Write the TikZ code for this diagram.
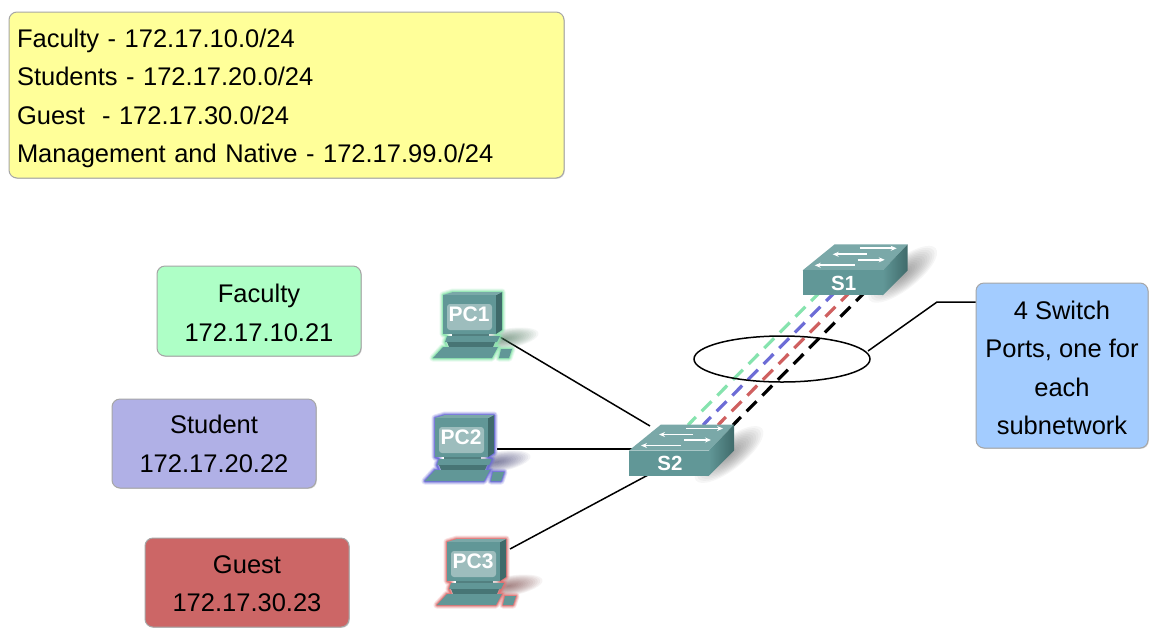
\documentclass[tikz,border=0pt]{standalone}
\usepackage{fontspec}
\setmainfont{Liberation Sans}
\usetikzlibrary{arrows.meta,shadows,shapes.geometric}
\definecolor{yellowbox}{HTML}{FFFF99}
\definecolor{greenbox}{HTML}{AEFFC6}
\definecolor{bluebox}{HTML}{B0B0E6}
\definecolor{redbox}{HTML}{CC6666}
\definecolor{skybox}{HTML}{A3CCFF}
\definecolor{devfront}{HTML}{619797}
\definecolor{devtop}{HTML}{7AA8A8}
\definecolor{devdark}{HTML}{3F6A6A}
\definecolor{screenc}{HTML}{9DBDBD}
\definecolor{glowg}{HTML}{8CE6AE}
\definecolor{glowb}{HTML}{6A6AD8}
\definecolor{glowr}{HTML}{E07070}
\definecolor{dashg}{HTML}{86E3AE}
\definecolor{dashb}{HTML}{6C6CD6}
\definecolor{dashr}{HTML}{CF6060}
\tikzset{
  x=1pt,y=-1pt,
  infobox/.style={draw=black!35,line width=1pt,rounded corners=8pt,align=center,
    font=\fontsize{25.5}{38.3}\selectfont,text=black,inner sep=0pt,
    drop shadow={shadow xshift=.8pt,shadow yshift=-.8pt,fill=black!50,opacity=.35}},
  link/.style={draw=black,line width=1.5pt},
  trunk/.style={line width=3.2pt,dash pattern=on 14pt off 8.2pt},
  devlabel/.style={text=white,font=\bfseries\fontsize{#1}{#1}\selectfont,inner sep=0pt},
  flowarrow/.style={white,line width=1.8pt,-{Stealth[length=6pt,width=5pt]}},
}
% soft blob: nested translucent ellipses; colour, centre, rx, ry, rotation
\newcommand\softblob[5]{%
  \foreach \k in {1,...,14}{
    \fill[#1,opacity=.06,shift={#2},rotate=#5] (0,0) ellipse ({#3*\k/14} and {#4*\k/14});}}
\newcommand\pcicon[5]{% name, x, y, glow, label
\begin{scope}[shift={(#2,#3)}]
  \softblob{#4!50!black}{(62,47)}{34}{10}{10}
  \foreach \w/\o in {7/.2,5/.3,3/.5,1.5/.8}{
   \draw[#4,line width=\w pt,line join=round,opacity=\o]
     (0,3) -- (10,0) -- (59,0) -- (59,38) -- (53,42) -- (57,44) -- (54,50) -- (52,55) -- (55,55) -- (49,66) -- (-10,66) -- (0,55) -- (4,55) -- (2,50) -- (4,44) -- (0,42) -- cycle;
   \draw[#4,line width=\w pt,line join=round,opacity=\o]
     (58,57) -- (69,57) -- (66,66) -- (56,66) -- cycle;}
  \fill[devdark] (53,3) -- (59,0) -- (59,38) -- (53,42) -- cycle;
  \fill[devtop] (0,3) -- (10,0) -- (59,0) -- (53,3) -- cycle;
  \fill[devfront] (0,3) -- (53,3) -- (53,42) -- (0,42) -- cycle;
  \fill[devfront!85!black] (9,42) -- (46,42) -- (46,45) -- (9,45) -- cycle;
  \fill[devfront] (2,50) -- (4,44) -- (57,44) -- (54,50) -- cycle;
  \fill[devdark!75!devfront] (4,50) -- (52,50) -- (50,55) -- (6,55) -- cycle;
  \fill[devfront] (0,55) -- (55,55) -- (49,66) -- (-10,66) -- cycle;
  \fill[devfront] (58,57) -- (69,57) -- (66,66) -- (56,66) -- cycle;
  \fill[screenc,rounded corners=3pt] (4,12) rectangle (49,38);
  \node[devlabel=21] (#1) at (26,22.5) {#5};
\end{scope}}
\newcommand\switchicon[4]{% name, x, y, label
\begin{scope}[shift={(#2,#3)}]
  \softblob{black!60}{(100,30)}{42}{15}{38}
  \fill[devtop] (0,26) -- (32,0) -- (105,0) -- (80,26) -- cycle;
  \shade[left color=devfront,right color=devdark] (80,26) -- (105,0) -- (105,26) -- (80,51) -- cycle;
  \fill[devfront] (0,26) rectangle (80,51);
  \draw[flowarrow] (57,4) -- (94,4);
  \draw[flowarrow] (64,10) -- (30,10);
  \draw[flowarrow] (55,15.5) -- (82,15.5);
  \draw[flowarrow] (52,21) -- (12,21);
  \node[devlabel=20.5] (#1) at (41,39) {#4};
\end{scope}}
\begin{document}
\begin{tikzpicture}
\useasboundingbox[fill=white] (0,0) rectangle (1155,638);

% info boxes
\node[infobox,fill=yellowbox,minimum width=555pt,minimum height=166pt,align=left,text width=539pt] (legend) at (286.5,95)
 {\rule{0pt}{25pt}Faculty - 172.17.10.0/24\\Students - 172.17.20.0/24\\Guest\ \ - 172.17.30.0/24\\Management and Native - 172.17.99.0/24};
\node[infobox,fill=greenbox,minimum width=204pt,minimum height=90pt] (faculty) at (259,311) {\rule{0pt}{22pt}Faculty\\172.17.10.21};
\node[infobox,fill=bluebox,minimum width=204pt,minimum height=89pt] (student) at (214,443.5) {\rule{0pt}{19.5pt}Student\\172.17.20.22};
\node[infobox,fill=redbox,minimum width=204pt,minimum height=89pt] (guest) at (247,582.5) {\rule{0pt}{20pt}Guest\\172.17.30.23};
\node[infobox,fill=skybox,minimum width=172pt,minimum height=165pt] (ports) at (1062,365.5) {\rule{0pt}{23pt}4 Switch\\Ports, one for\\each\\subnetwork};

% trunk end points
\coordinate (s1g) at (821,291); \coordinate (s2g) at (688,425);
\coordinate (s1b) at (836,291); \coordinate (s2b) at (703,425);
\coordinate (s1r) at (851,291); \coordinate (s2r) at (718,425);
\coordinate (s1k) at (866,291); \coordinate (s2k) at (733,425);

% access links
\coordinate (pc1port) at (500,337); \coordinate (s2a) at (650,426);
\coordinate (pc2port) at (497,449); \coordinate (s2c) at (632,449);
\coordinate (pc3port) at (510,549); \coordinate (s2d) at (648,475);

% devices' soft shadows and bodies come after the links, so links end at them
\draw[link] (pc1port) -- (s2a);
\draw[link] (pc2port) -- (s2c);
\draw[link] (pc3port) -- (s2d);

% trunks
\draw[trunk,dashg] (s1g) -- (s2g);
\draw[trunk,dashb] (s1b) -- (s2b);
\draw[trunk,dashr] (s1r) -- (s2r);
\draw[trunk,black] (s1k) -- (s2k);

% devices
\switchicon{s1}{802.7}{244.3}{S1}
\switchicon{s2}{629}{424.5}{S2}
\pcicon{pc1}{443}{292}{glowg}{PC1}
\pcicon{pc2}{435}{415}{glowb}{PC2}
\pcicon{pc3}{447}{539}{glowr}{PC3}

% bundle ellipse and its callout
\node[draw=black,line width=1.5pt,ellipse,minimum width=176pt,minimum height=46pt,inner sep=0pt] (bundle) at (782,359) {};
\coordinate (elbow) at (937,302);
\draw[link] (868,351) -- (elbow) -- (ports.west |- elbow);
\end{tikzpicture}
\end{document}
